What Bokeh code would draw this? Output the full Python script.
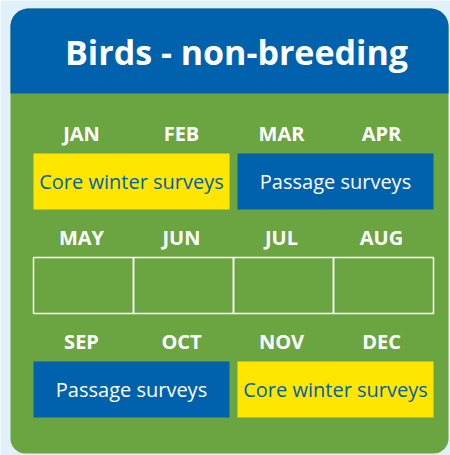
import numpy as np
from bokeh.plotting import figure
from bokeh.models import Range1d, ColumnDataSource
from bokeh.core.properties import value
from bokeh.embed import file_html
from bokeh.resources import INLINE

# ---- data ----
title_text = "Birds - non-breeding"
months = ["JAN", "FEB", "MAR", "APR", "MAY", "JUN", "JUL", "AUG", "SEP", "OCT", "NOV", "DEC"]
seg_labels = ["Core winter surveys", "Passage surveys", "Passage surveys", "Core winter surveys"]
seg_start = [0, 2, 8, 10]   # first month index (inclusive)
seg_end = [2, 4, 10, 12]    # last month index (exclusive)
seg_kind = ["core", "passage", "passage", "core"]
empty_months = [4, 5, 6, 7]

# ---- style / layout ----
BG = "#e0f1f9"
BLUE = "#0061ad"
GREEN = "#6ba542"
YELLOW = "#ffe600"
FONT = "Open Sans"
fill_of = {"core": YELLOW, "passage": BLUE}
text_of = {"core": BLUE, "passage": "#ffffff"}

COL0, COLW = 33, 100       # grid left, month width (px)
LAB0, ROWH = 133, 104      # month label y, row pitch
BAR0, BARH = 153, 56       # bar top, bar height
GAP = 4

W, H = 450, 455
p = figure(width=W, height=H, x_range=Range1d(0, W), y_range=Range1d(H, 0),
           output_backend="svg", toolbar_location=None, min_border=0)
p.axis.visible = False
p.grid.visible = False
p.outline_line_color = None
p.background_fill_color = BG
p.border_fill_color = BG


def rounded(x0, x1, y0, y1, rt, rb, n=12):
    xs, ys = [], []
    t = np.linspace(0, np.pi / 2, n)
    xs += list(x0 + rt - rt * np.cos(t)); ys += list(y0 + rt - rt * np.sin(t))
    t = np.linspace(np.pi / 2, 0, n)
    xs += list(x1 - rt + rt * np.cos(t)); ys += list(y0 + rt - rt * np.sin(t))
    t = np.linspace(0, np.pi / 2, n)
    xs += list(x1 - rb + rb * np.cos(t)); ys += list(y1 - rb + rb * np.sin(t))
    t = np.linspace(np.pi / 2, np.pi, n)
    xs += list(x0 + rb + rb * np.cos(t)); ys += list(y1 - rb + rb * np.sin(t))
    return xs, ys


# card
cx, cy = rounded(10, 448, 8, 453, 18, 15)
p.patch(cx, cy, fill_color=GREEN, line_color=None)
hx, hy = rounded(10, 448, 8, 93, 18, 0)
p.patch(hx, hy, fill_color=BLUE, line_color=None)

p.text(x=[236], y=[51], text=[title_text], text_font=value(FONT), text_font_style="bold",
       text_font_size="34px", text_color="#ffffff", text_align="center", text_baseline="middle")

# month labels
rows = [i // 4 for i in range(len(months))]
cols = [i % 4 for i in range(len(months))]
msrc = ColumnDataSource(dict(
    x=[COL0 + COLW * c + COLW / 2 - 2 for c in cols],
    y=[LAB0 + ROWH * r for r in rows],
    t=months))
p.text(x="x", y="y", text="t", source=msrc, text_font=value(FONT), text_font_style="bold",
       text_font_size="20px", text_color="#ffffff", text_align="center", text_baseline="middle")

# survey bars
L, R, T, B, TX, TY, F, TC = [], [], [], [], [], [], [], []
for s, e, k in zip(seg_start, seg_end, seg_kind):
    r = s // 4
    c0, c1 = s % 4, (e - 1) % 4 + 1
    left = COL0 + COLW * c0 + (GAP if c0 > 0 else 0)
    right = COL0 + COLW * c1 - (GAP if c1 < 4 else 0)
    top = BAR0 + ROWH * r
    L.append(left); R.append(right); T.append(top); B.append(top + BARH)
    TX.append((left + right) / 2); TY.append(top + BARH / 2)
    F.append(fill_of[k]); TC.append(text_of[k])
bsrc = ColumnDataSource(dict(left=L, right=R, top=T, bottom=B, tx=TX, ty=TY, f=F, tc=TC, t=seg_labels))
p.quad(left="left", right="right", top="top", bottom="bottom", fill_color="f", line_color=None, source=bsrc)
p.text(x="tx", y="ty", text="t", text_color="tc", source=bsrc, text_font=value(FONT),
       text_font_size="20px", text_align="center", text_baseline="middle")

# empty months (no surveys)
esrc = ColumnDataSource(dict(
    left=[COL0 + COLW * (m % 4) for m in empty_months],
    right=[COL0 + COLW * (m % 4 + 1) for m in empty_months],
    top=[BAR0 + ROWH * (m // 4) for m in empty_months],
    bottom=[BAR0 + ROWH * (m // 4) + BARH for m in empty_months]))
p.quad(left="left", right="right", top="top", bottom="bottom", fill_color=None,
       line_color="#ffffff", line_width=1.5, source=esrc)

open("out.html", "w").write(file_html(p, INLINE))
